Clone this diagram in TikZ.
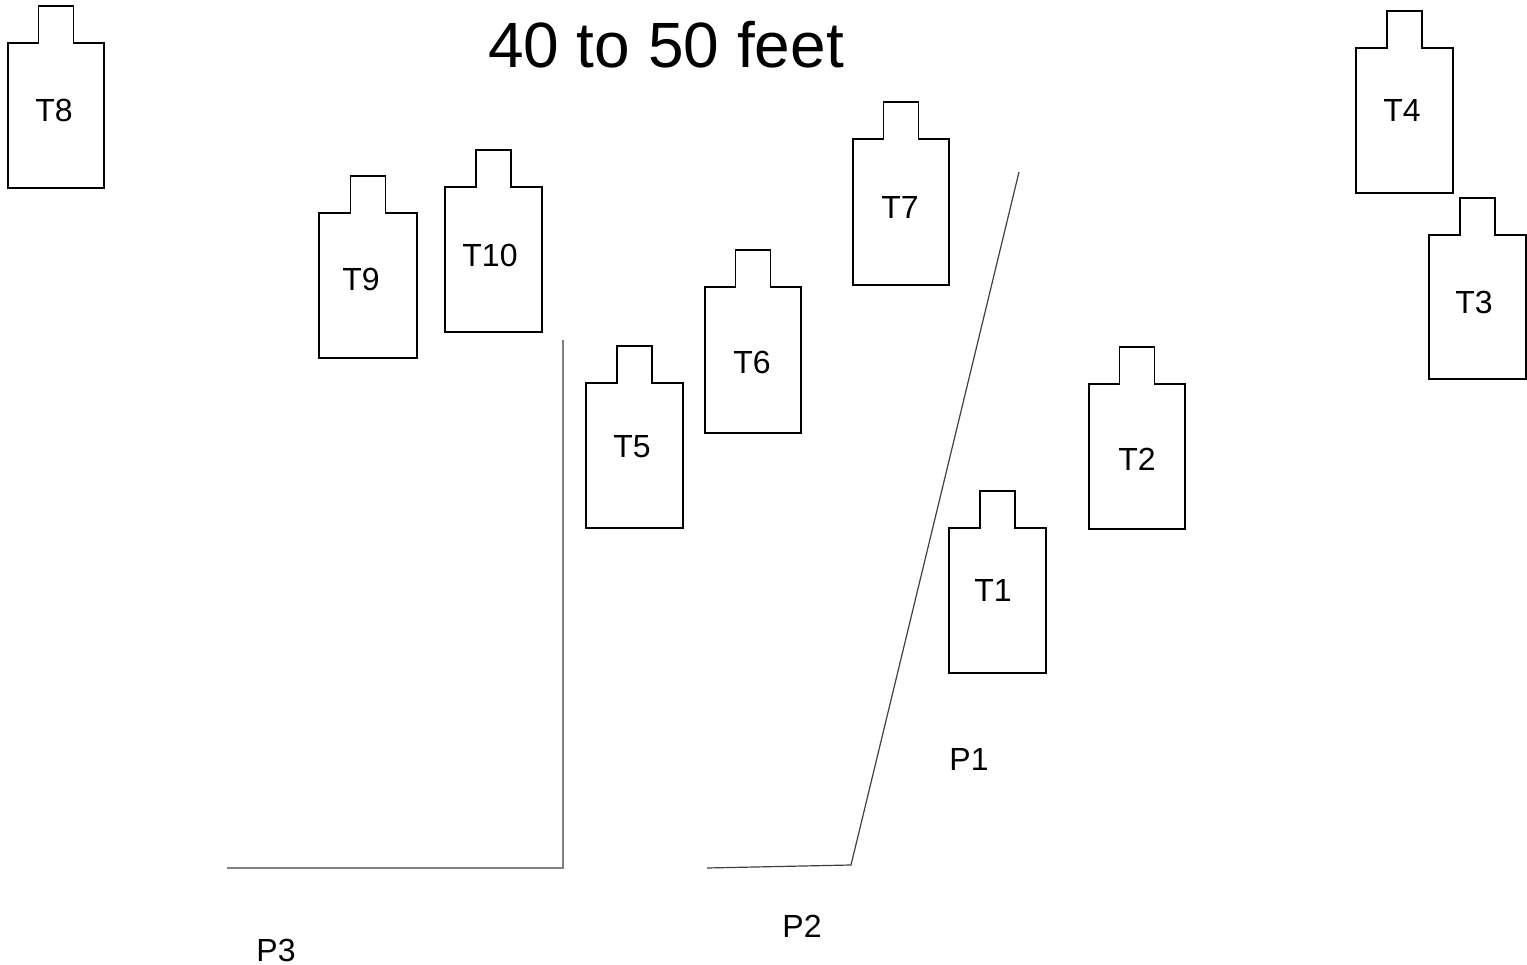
\documentclass[tikz,border=0pt]{standalone}
\usepackage{fontspec}
\setmainfont{Liberation Sans}
\begin{document}
\begin{tikzpicture}[x=1pt,y=-1pt,
  bodybox/.style={rectangle,inner sep=0pt,outer sep=0pt},
  outline/.style={draw=black,line width=1.8pt,line join=miter},
  lbl/.style={inner sep=0pt,font=\fontsize{32}{38}\selectfont},
  wallgray/.style={draw=black!50,line width=1.4pt},
  walldark/.style={draw=black!75,line width=1.2pt}]
\useasboundingbox (0,0) rectangle (1527,965);
\fill[white] (0,0) rectangle (1527,965);
\node[anchor=base,inner sep=0pt,font=\fontsize{64}{76}\selectfont] (title) at (666,68) {40 to 50 feet};
\foreach \n/\l/\r/\t/\b/\lx/\ly in {
  T8/8/104/6/188/54/110,
  T9/319/417/176/358/361/279,
  T10/445/542/150/332/490/255,
  T7/853/949/102/285/900/207,
  T6/705/801/250/433/752/362,
  T5/586/683/346/528/632/447,
  T1/949/1046/491/673/993/590,
  T2/1089/1185/347/529/1137/459,
  T4/1356/1453/11/193/1402/110,
  T3/1429/1526/198/379/1474/302}{
  \node[bodybox,minimum width={\r-\l},minimum height={\b-\t-37}] (\n) at ({(\l+\r)/2},{(\t+37+\b)/2}) {};
  \draw[outline] (\n.north west) -- ([xshift=-17.5pt]\n.north) -- ([xshift=-17.5pt,yshift=37pt]\n.north)
    -- ([xshift=17.5pt,yshift=37pt]\n.north) -- ([xshift=17.5pt]\n.north) -- (\n.north east)
    -- (\n.south east) -- (\n.south west) -- cycle;
  \node[lbl] (\n-lab) at (\lx,\ly) {\n};
}
\coordinate (p3a) at (227,868);
\coordinate (p3b) at (563,868);
\coordinate (p3c) at (563,340);
\draw[wallgray] (p3a) -- (p3b) -- (p3c);
\coordinate (p2a) at (707,868);
\coordinate (p2b) at (851,865);
\coordinate (p2c) at (1019,172);
\draw[walldark] (p2a) -- (p2b) -- (p2c);
\node[lbl] (P1) at (969,759) {P1};
\node[lbl] (P2) at (802,926) {P2};
\node[lbl] (P3) at (276,950) {P3};
\end{tikzpicture}
\end{document}
